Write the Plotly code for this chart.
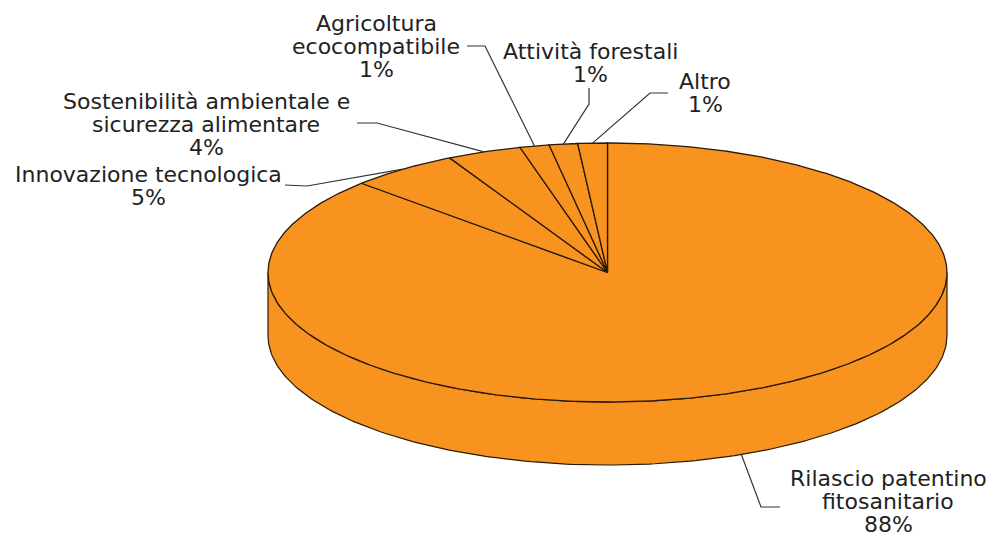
import numpy as np
import plotly.graph_objects as go

# Categories in drawing order, clockwise from twelve o'clock
categories = [["Rilascio patentino", "fitosanitario"], ["Innovazione tecnologica"],
              ["Sostenibilità ambientale e", "sicurezza alimentare"],
              ["Agricoltura", "ecocompatibile"], ["Attività forestali"], ["Altro"]]
printed_percent = [88, 5, 4, 1, 1, 1]
# Shares
shares = [87.1, 5.2, 3.55, 1.4, 1.35, 1.4]

# Label centres and leader elbows, in page pixels
label_x = [888, 148, 206, 376, 590, 705]
label_y = [501, 186, 124, 46, 63, 93]
leader_elbow = [(761, 507), (307, 186), (377, 123), (485, 46), (589, 104), (650, 93)]
leader_end = [(780, 507), (285, 185), (357, 123), (467, 46), (589, 88), (668, 93)]

CX, CY, RX, RY, DEPTH = 607.5, 272.5, 339.5, 129.5, 63
LINE_STEP = 23
ORANGE = "#F7931E"
EDGE = "#2a1a08"


def rim(theta_deg, dy=0.0):
    t = np.radians(theta_deg)
    return CX + RX * np.sin(t), CY - RY * np.cos(t) + dy


fig = go.Figure()

# Side wall
th = np.linspace(90, 270, 181)
xb, yb = rim(th, DEPTH)
xt, yt = rim(th[::-1])
fig.add_trace(go.Scatter(x=np.r_[xb, xt, xb[0]], y=np.r_[yb, yt, yb[0]], mode="lines",
                         fill="toself", fillcolor=ORANGE,
                         line=dict(color=EDGE, width=1.2), hoverinfo="skip"))

# Top slices
edges = np.cumsum([0] + shares) / sum(shares) * 360
for a, b in zip(edges[:-1], edges[1:]):
    arc = np.linspace(a, b, max(int(b - a) * 2, 8))
    x, y = rim(arc)
    fig.add_trace(go.Scatter(x=np.r_[CX, x, CX], y=np.r_[CY, y, CY], mode="lines",
                             fill="toself", fillcolor=ORANGE,
                             line=dict(color=EDGE, width=1.3), hoverinfo="skip"))

# Leader lines, from each slice's rim midpoint
mids = (edges[:-1] + edges[1:]) / 2
for i, m in enumerate(mids):
    x0, y0 = rim(m, DEPTH if i == 0 else 0)
    fig.add_trace(go.Scatter(x=[x0, leader_elbow[i][0], leader_end[i][0]],
                             y=[y0, leader_elbow[i][1], leader_end[i][1]], mode="lines",
                             line=dict(color="#333333", width=1.2), hoverinfo="skip"))

# Labels, one text per line so the tight line spacing can be kept
for name, pct, x, y in zip(categories, printed_percent, label_x, label_y):
    lines = name + [f"{pct}%"]
    for k, line in enumerate(lines):
        fig.add_annotation(x=x, y=y + (k - (len(lines) - 1) / 2) * LINE_STEP, xref="x", yref="y",
                           text=line, showarrow=False, xanchor="center", yanchor="middle",
                           font=dict(family="DejaVu Sans", size=22, color="#222222"))

fig.update_layout(width=995, height=537, margin=dict(l=0, r=0, t=0, b=0), showlegend=False,
                  paper_bgcolor="white", plot_bgcolor="white",
                  xaxis=dict(range=[0, 995], visible=False, fixedrange=True),
                  yaxis=dict(range=[537, 0], visible=False, fixedrange=True))
fig.write_html("out.html", config={"displayModeBar": False},
               post_script="document.body.style.margin='0';document.documentElement.style.overflow='hidden';")
